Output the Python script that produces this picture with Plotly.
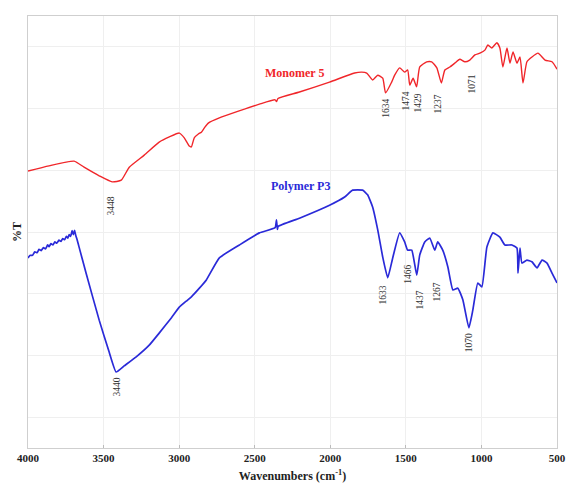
import plotly.graph_objects as go

# Monomer 5 (red) spectrum: wavenumber, %T (arbitrary 0-100 scale)
mono_wn = [4000, 3861, 3695, 3629, 3529, 3443, 3383, 3330, 3231, 3132, 3065, 2999, 2966, 2933,
           2919, 2900, 2873, 2853, 2833, 2807, 2734, 2469, 2365, 2356, 2346, 2204, 2005, 1839,
           1792, 1759, 1720, 1686, 1653, 1634, 1594, 1574, 1541, 1508, 1488, 1474, 1452, 1429,
           1408, 1362, 1329, 1295, 1265, 1242, 1209, 1176, 1143, 1110, 1077, 1043, 1010, 977,
           957, 931, 898, 878, 858, 831, 811, 791, 765, 745, 725, 699, 666, 626, 579, 533, 500]
mono_t = [64.1, 65.3, 66.4, 65.0, 63.0, 61.6, 62.0, 65.0, 67.8, 70.8, 72.0, 72.9, 71.8, 69.9,
          69.7, 71.8, 72.7, 73.1, 74.1, 75.2, 76.4, 79.6, 80.6, 80.2, 80.9, 82.4, 84.7, 86.8,
          87.0, 86.8, 85.2, 86.3, 85.6, 82.2, 84.7, 86.3, 88.0, 87.0, 87.5, 84.0, 85.6, 83.6,
          88.2, 89.4, 89.4, 88.0, 84.5, 87.5, 88.2, 89.1, 90.0, 89.4, 89.8, 91.0, 91.4, 92.1,
          93.3, 92.6, 93.8, 92.6, 88.2, 92.6, 89.1, 91.7, 89.1, 90.5, 84.5, 89.4, 90.5, 91.4,
          89.8, 89.4, 87.7]

# Polymer P3 (blue) spectrum
poly_wn = [4000, 3985, 3970, 3955, 3940, 3927, 3912, 3898, 3884, 3870, 3861, 3848, 3835, 3822,
           3810, 3795, 3782, 3770, 3758, 3746, 3736, 3728, 3718, 3708, 3700, 3692, 3684, 3675,
           3662, 3616, 3529, 3463, 3417, 3364, 3284, 3198, 3132, 3052, 2999, 2953, 2919, 2866,
           2820, 2734, 2601, 2469, 2365, 2356, 2350, 2345, 2204, 2005, 1905, 1852, 1786, 1753,
           1720, 1686, 1653, 1620, 1587, 1541, 1508, 1488, 1461, 1428, 1408, 1375, 1342, 1309,
           1289, 1256, 1222, 1189, 1156, 1123, 1083, 1057, 1024, 997, 964, 924, 878, 845, 798,
           765, 758, 745, 732, 699, 666, 632, 599, 566, 533, 500]
poly_t = [44.0, 44.6, 44.6, 45.4, 45.2, 46.0, 45.7, 46.4, 46.1, 47.0, 46.6, 47.3, 47.0, 47.7,
          47.4, 48.1, 47.8, 48.5, 48.2, 49.0, 48.6, 49.4, 49.0, 50.3, 49.4, 50.4, 49.2, 48.2,
          46.5, 40.5, 29.6, 22.2, 17.6, 19.0, 21.1, 23.8, 26.6, 30.1, 32.6, 34.0, 35.0, 37.0,
          38.9, 44.0, 47.0, 49.8, 51.0, 52.8, 50.6, 51.3, 53.2, 56.2, 58.1, 59.7, 59.7, 58.6,
          55.8, 50.5, 44.2, 39.4, 44.0, 49.8, 47.7, 45.8, 45.8, 40.0, 44.7, 47.7, 48.6, 45.8,
          47.7, 45.8, 41.9, 36.6, 37.0, 34.3, 27.8, 31.9, 38.2, 37.3, 46.5, 49.8, 48.8, 47.0,
          47.0, 46.3, 40.5, 46.3, 42.8, 43.5, 43.1, 41.7, 43.5, 42.8, 40.5, 38.2]

# Peak labels: (wavenumber position, top of label, text)
mono_peak_x = [3451, 1631, 1499, 1426, 1287, 1063]
mono_peak_y = [58.8, 81.2, 82.9, 82.4, 82.2, 87.0]
mono_peak_txt = ["3448", "1634", "1474", "1429", "1237", "1071"]

poly_peak_x = [3405, 1645, 1486, 1407, 1294, 1082]
poly_peak_y = [16.9, 38.2, 43.0, 37.0, 38.9, 26.9]
poly_peak_txt = ["3440", "1633", "1466", "1437", "1267", "1070"]

x_ticks = [4000, 3500, 3000, 2500, 2000, 1500, 1000, 500]
y_grid = [100 / 14 + k * 100 / 7 for k in range(7)]

SERIF = "Liberation Serif, Times New Roman, serif"
RED = "#f0262a"
BLUE = "#2a2ad8"

fig = go.Figure()
fig.add_trace(go.Scatter(x=mono_wn, y=mono_t, mode="lines",
                         line=dict(color=RED, width=1.4, shape="spline", smoothing=0.5),
                         name="Monomer 5"))
fig.add_trace(go.Scatter(x=poly_wn, y=poly_t, mode="lines",
                         line=dict(color=BLUE, width=1.7, shape="spline", smoothing=0.4),
                         name="Polymer P3"))

annotations = []
for xv, yv, t in zip(mono_peak_x, mono_peak_y, mono_peak_txt):
    annotations.append(dict(x=xv, y=yv, text=t, showarrow=False, textangle=-90,
                            xanchor="center", yanchor="top",
                            font=dict(family=SERIF, size=9.5, color="#333333")))
for xv, yv, t in zip(poly_peak_x, poly_peak_y, poly_peak_txt):
    annotations.append(dict(x=xv, y=yv, text=t, showarrow=False, textangle=-90,
                            xanchor="center", yanchor="top",
                            font=dict(family=SERIF, size=9.5, color="#333333")))
annotations.append(dict(x=2240, y=86.8, text="Monomer 5", showarrow=False,
                        font=dict(family=SERIF, size=12, color=RED, weight="bold")))
annotations.append(dict(x=2200, y=60.6, text="Polymer P3", showarrow=False,
                        font=dict(family=SERIF, size=12, color=BLUE, weight="bold")))

fig.update_layout(
    width=567, height=501,
    margin=dict(l=28, r=10, t=16, b=53),
    plot_bgcolor="white", paper_bgcolor="white",
    showlegend=False,
    annotations=annotations,
    xaxis=dict(range=[4000, 500], tickvals=x_ticks, ticktext=[str(v) for v in x_ticks],
               automargin=False,
               showgrid=True, gridcolor="#efefef", gridwidth=1,
               showline=True, linecolor="#cfcfcf", linewidth=1, mirror=True,
               ticks="inside", ticklen=3, tickcolor="#bbbbbb", zeroline=False,
               tickfont=dict(family=SERIF, size=11, color="#222222", weight="bold"),
               title=dict(text="Wavenumbers (cm<sup>-1</sup>)", standoff=8,
                          font=dict(family=SERIF, size=12, color="#222222", weight="bold"))),
    yaxis=dict(range=[0, 100], tickvals=y_grid, showticklabels=False,
               automargin=False,
               showgrid=True, gridcolor="#efefef", gridwidth=1,
               showline=True, linecolor="#cfcfcf", linewidth=1, mirror=True,
               zeroline=False, ticks="",
               title=dict(text="%T", standoff=2,
                          font=dict(family=SERIF, size=12, color="#222222", weight="bold"))),
)

fig.write_html("out.html")
